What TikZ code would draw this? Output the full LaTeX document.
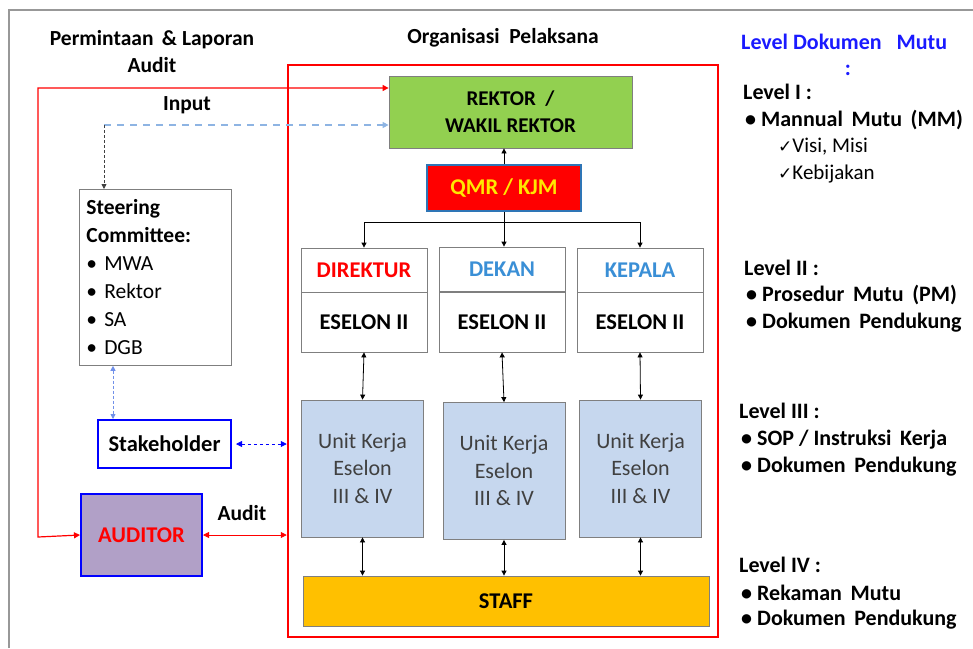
\documentclass[tikz,border=0pt]{standalone}
\usepackage{fontspec}
\setmainfont{Carlito}
\newfontfamily\symfont{DejaVu Sans}
\usetikzlibrary{arrows.meta,positioning}

\definecolor{boxgrey}{HTML}{7F7F7F}
\definecolor{rekgreen}{HTML}{92D050}
\definecolor{qmrblue}{HTML}{2E75B6}
\definecolor{qmryellow}{HTML}{FFE800}
\definecolor{unitblue}{HTML}{C6D7EE}
\definecolor{staffgold}{HTML}{FFC000}
\definecolor{audlilac}{HTML}{B1A0C7}
\definecolor{headblue}{HTML}{3A8FD6}
\definecolor{dashblue}{HTML}{8EB4E3}
\definecolor{titleblue}{HTML}{1A1AFF}
\definecolor{unittext}{HTML}{404040}

\begin{document}
\begin{tikzpicture}[
    x=1pt, y=-1pt,
    box/.style={draw=boxgrey, thick, fill=#1, align=center, font=\fontsize{22.5}{27}\selectfont\bfseries, inner sep=0pt},
    bluebox/.style={draw=blue, line width=2pt, fill=#1, align=center, font=\fontsize{22.5}{27}\selectfont\bfseries, inner sep=0pt},
    unit/.style={box=unitblue, minimum width=122pt, minimum height=137pt, font=\fontsize{22}{27.5}\selectfont, text=unittext},
    head/.style={draw=boxgrey, thick, fill=white, minimum width=126pt, inner sep=0pt, font=\fontsize{22.5}{27}\selectfont\bfseries},
    label/.style={font=\fontsize{21.5}{27}\selectfont\bfseries, align=center, inner sep=0pt},
    lvl/.style={font=\fontsize{22}{27}\selectfont\bfseries, anchor=west, inner sep=0pt},
    arrow/.style={-{Triangle[length=5pt,width=5pt]}, thick},
    dbl/.style={{Triangle[length=5pt,width=5pt]}-{Triangle[length=5pt,width=5pt]}, thick},
    redline/.style={red, line width=1.2pt},
    bluedot/.style={blue, thick, dash pattern=on 3pt off 3pt}
]
    \useasboundingbox (0,0) rectangle (973,648);
    % outer frame
    \draw[boxgrey!80, line width=1.5pt] (9,648) -- (9,10) -- (973,10);

    % headings
    \node[label] (reqtitle) at (152,52) {Permintaan \,\& Laporan\\Audit};
    \node[label] (orgtitle) at (503,38) {Organisasi \ Pelaksana};
    \node[label] (inputlbl) at (187,105) {Input};
    \node[label] (auditlbl) at (242,513) {Audit};

    % organisation frame
    \node[draw=red, line width=2.5pt, minimum width=430pt, minimum height=572pt, inner sep=0pt] (org) at (503,351) {};

    % top of the structure
    \node[box=rekgreen, minimum width=243pt, minimum height=72pt, font=\fontsize{21}{27}\selectfont\bfseries] (rektor) at (510.5,112) {REKTOR \ /\\WAKIL REKTOR};
    \node[box=red, draw=qmrblue, line width=1.5pt, minimum width=154pt, minimum height=46pt, text=qmryellow] (qmr) at (504,188) {QMR / KJM};

    % eselon II
    \node[head, minimum height=44pt, text=red] (dirhead) at (364,270) {DIREKTUR};
    \node[head, minimum height=60pt] (diresl) at (364,322) {ESELON II};
    \node[head, minimum height=44pt, text=headblue] (dekhead) at (502,269) {DEKAN};
    \node[head, minimum height=60pt] (dekesl) at (502,322) {ESELON II};
    \node[head, minimum height=44pt, text=headblue] (kephead) at (640,270) {KEPALA};
    \node[head, minimum height=60pt] (kepesl) at (640,322) {ESELON II};

    % unit kerja
    \node[unit] (unitdir) at (362.5,468.5) {Unit Kerja\\Eselon\\III \& IV};
    \node[unit] (unitdek) at (504,471) {Unit Kerja\\Eselon\\III \& IV};
    \node[unit] (unitkep) at (640.5,468.5) {Unit Kerja\\Eselon\\III \& IV};

    \node[box=staffgold, minimum width=406pt, minimum height=50pt] (staff) at (506,601) {STAFF};

    % left side
    \node[box=white, minimum height=176pt, text width=138pt, align=left, anchor=north west, inner xsep=7pt, inner ysep=6pt, font=\fontsize{21.5}{28}\selectfont\mdseries] (steer) at (79,189)
        {\textbf{Steering}\\\textbf{Committee:}\\\textbullet\ MWA\\\textbullet\ Rektor\\\textbullet\ SA\\\textbullet\ DGB};
    \node[bluebox=white, minimum width=133pt, minimum height=48pt] (stake) at (164.5,444) {Stakeholder};
    \node[bluebox=audlilac, minimum width=121pt, minimum height=82pt, text=red] (auditor) at (141.5,535) {AUDITOR};

    % connectors
    \coordinate (split) at (504,222);
    \draw[arrow] (qmr.north) -- (qmr.north |- rektor.south);
    \draw[thick] (qmr.south) -- (split);
    \draw[arrow] (split) -- (split |- dekhead.north);
    \draw[arrow] (split) -| (dirhead.north);
    \draw[arrow] (split) -| (kephead.north);

    \draw[dbl] (diresl.south) -- (unitdir.north);
    \draw[dbl] (dekesl.south) -- (unitdek.north);
    \draw[dbl] (kepesl.south) -- (unitkep.north);
    \draw[dbl] (unitdir.south) -- (unitdir.south |- staff.north);
    \draw[dbl] (unitdek.south) -- (unitdek.south |- staff.north);
    \draw[dbl] (unitkep.south) -- (unitkep.south |- staff.north);

    \coordinate (redtop) at (38,88);
    \coordinate (redbot) at (38,537);
    \draw[redline, {Triangle[length=6pt,width=6pt]}-{Triangle[length=6pt,width=6pt]}] (auditor.west) -- (redbot) -- (redtop) -- (rektor.west |- redtop);
    \draw[red, thick, {Triangle[length=6pt,width=6pt]}-{Triangle[length=6pt,width=6pt]}] (auditor.east) -- (auditor.east -| org.west);

    \coordinate (inp) at (104,125);
    \draw[dashblue, line width=2pt, dash pattern=on 7pt off 6pt, -{Triangle[length=6pt,width=6pt]}] (inp) -- (rektor.west |- inp);
    \draw[black!75, thick, dash pattern=on 3pt off 2pt, -{Triangle[length=5pt,width=5pt]}] (inp) -- (steer.north -| inp);

    \coordinate (sx) at (113,0);
    \draw[dashblue!80!blue, thick, dash pattern=on 3pt off 2pt, {Triangle[length=5pt,width=5pt]}-{Triangle[length=5pt,width=5pt]}] (steer.south -| sx) -- (stake.north -| sx);
    \draw[bluedot, {Triangle[length=6pt,width=6pt]}-{Triangle[length=6pt,width=6pt]}] (stake.east) ++(4,0) -- (stake.east -| org.west);

    % level dokumen mutu
    \node[lvl, text=titleblue] (lvtitle) at (741,42) {Level Dokumen \ \ Mutu};
    \node[lvl, anchor=center, text=titleblue] (lvcolon) at (848,70) {:};
    \node[lvl] (lv1) at (743,92) {Level I :};
    \node[lvl] (lv1a) at (745,120) {\textbullet\ Mannual \,Mutu \,(MM)};
    \node[lvl, font=\fontsize{21}{27}\selectfont] (lv1b) at (778,147) {{\symfont\fontsize{17}{17}\selectfont✓}Visi, Misi};
    \node[lvl, font=\fontsize{21}{27}\selectfont] (lv1c) at (778,174) {{\symfont\fontsize{17}{17}\selectfont✓}Kebijakan};
    \node[lvl] (lv2) at (744,268) {Level II :};
    \node[lvl] (lv2a) at (746,295) {\textbullet\ Prosedur \,Mutu \,(PM)};
    \node[lvl] (lv2b) at (746,323) {\textbullet\ Dokumen \,Pendukung};
    \node[lvl] (lv3) at (739,411) {Level III :};
    \node[lvl] (lv3a) at (741,440) {\textbullet\ SOP / Instruksi \,Kerja};
    \node[lvl] (lv3b) at (741,467) {\textbullet\ Dokumen \,Pendukung};
    \node[lvl] (lv4) at (739,565) {Level IV :};
    \node[lvl] (lv4a) at (741,593) {\textbullet\ Rekaman \,Mutu};
    \node[lvl] (lv4b) at (741,620) {\textbullet\ Dokumen \,Pendukung};
\end{tikzpicture}
\end{document}
